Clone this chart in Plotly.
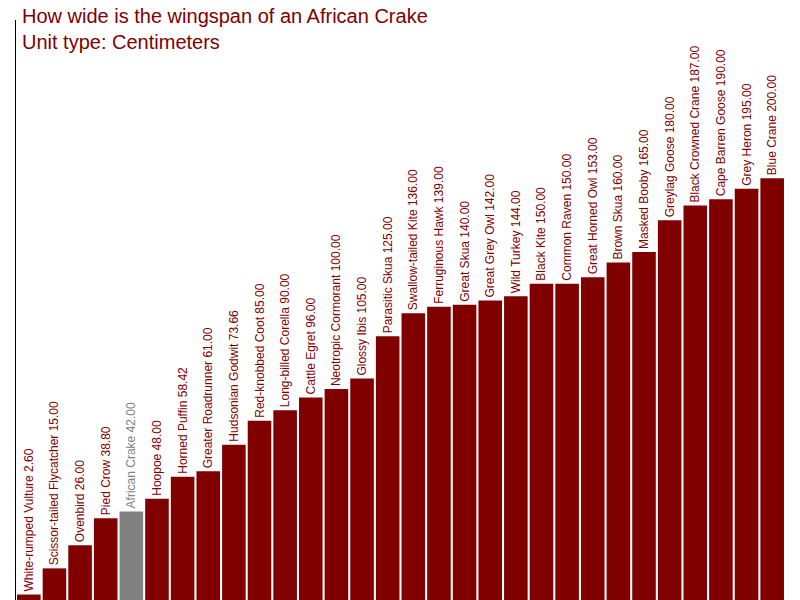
import plotly.graph_objects as go

birds = ["White-rumped Vulture", "Scissor-tailed Flycatcher", "Ovenbird", "Pied Crow",
         "African Crake", "Hoopoe", "Horned Puffin", "Greater Roadrunner", "Hudsonian Godwit",
         "Red-knobbed Coot", "Long-billed Corella", "Cattle Egret", "Neotropic Cormorant",
         "Glossy Ibis", "Parasitic Skua", "Swallow-tailed Kite", "Ferruginous Hawk",
         "Great Skua", "Great Grey Owl", "Wild Turkey", "Black Kite", "Common Raven",
         "Great Horned Owl", "Brown Skua", "Masked Booby", "Greylag Goose",
         "Black Crowned Crane", "Cape Barren Goose", "Grey Heron", "Blue Crane"]
wingspan = [2.6, 15, 26, 38.8, 42, 48, 58.42, 61, 73.66, 85, 90, 96, 100, 105, 125,
            136, 139, 140, 142, 144, 150, 150, 153, 160, 165, 180, 187, 190, 195, 200]
highlight = "African Crake"

colors = ["#808080" if b == highlight else "#800000" for b in birds]
labels = [f"{b} {v:.2f}" for b, v in zip(birds, wingspan)]

fig = go.Figure(go.Bar(
    x=birds, y=wingspan, marker_color=colors, marker_line_width=0,
    text=labels, textposition="outside", textangle=-90, cliponaxis=False,
    textfont=dict(color=colors, size=12, family="Liberation Sans"),
))
fig.update_layout(
    width=800, height=600, plot_bgcolor="white", paper_bgcolor="white",
    margin=dict(l=8, r=23, t=12, b=8), bargap=0.08, showlegend=False,
    uniformtext=dict(minsize=12, mode="show"),
    font=dict(family="Liberation Sans"),
)
fig.update_xaxes(showticklabels=False, showline=True, linecolor="black", ticks="")
fig.update_yaxes(range=[0, 275], showticklabels=False, showgrid=False, showline=True,
                 linecolor="black", zeroline=False)
fig.add_annotation(text="How wide is the wingspan of an African Crake<br>Unit type: Centimeters",
                   xref="paper", yref="paper", x=0, y=1.03, xanchor="left", yanchor="top",
                   showarrow=False, align="left", xshift=4,
                   font=dict(size=20, color="#800000", family="Liberation Sans"))
fig.write_html("out.html")
